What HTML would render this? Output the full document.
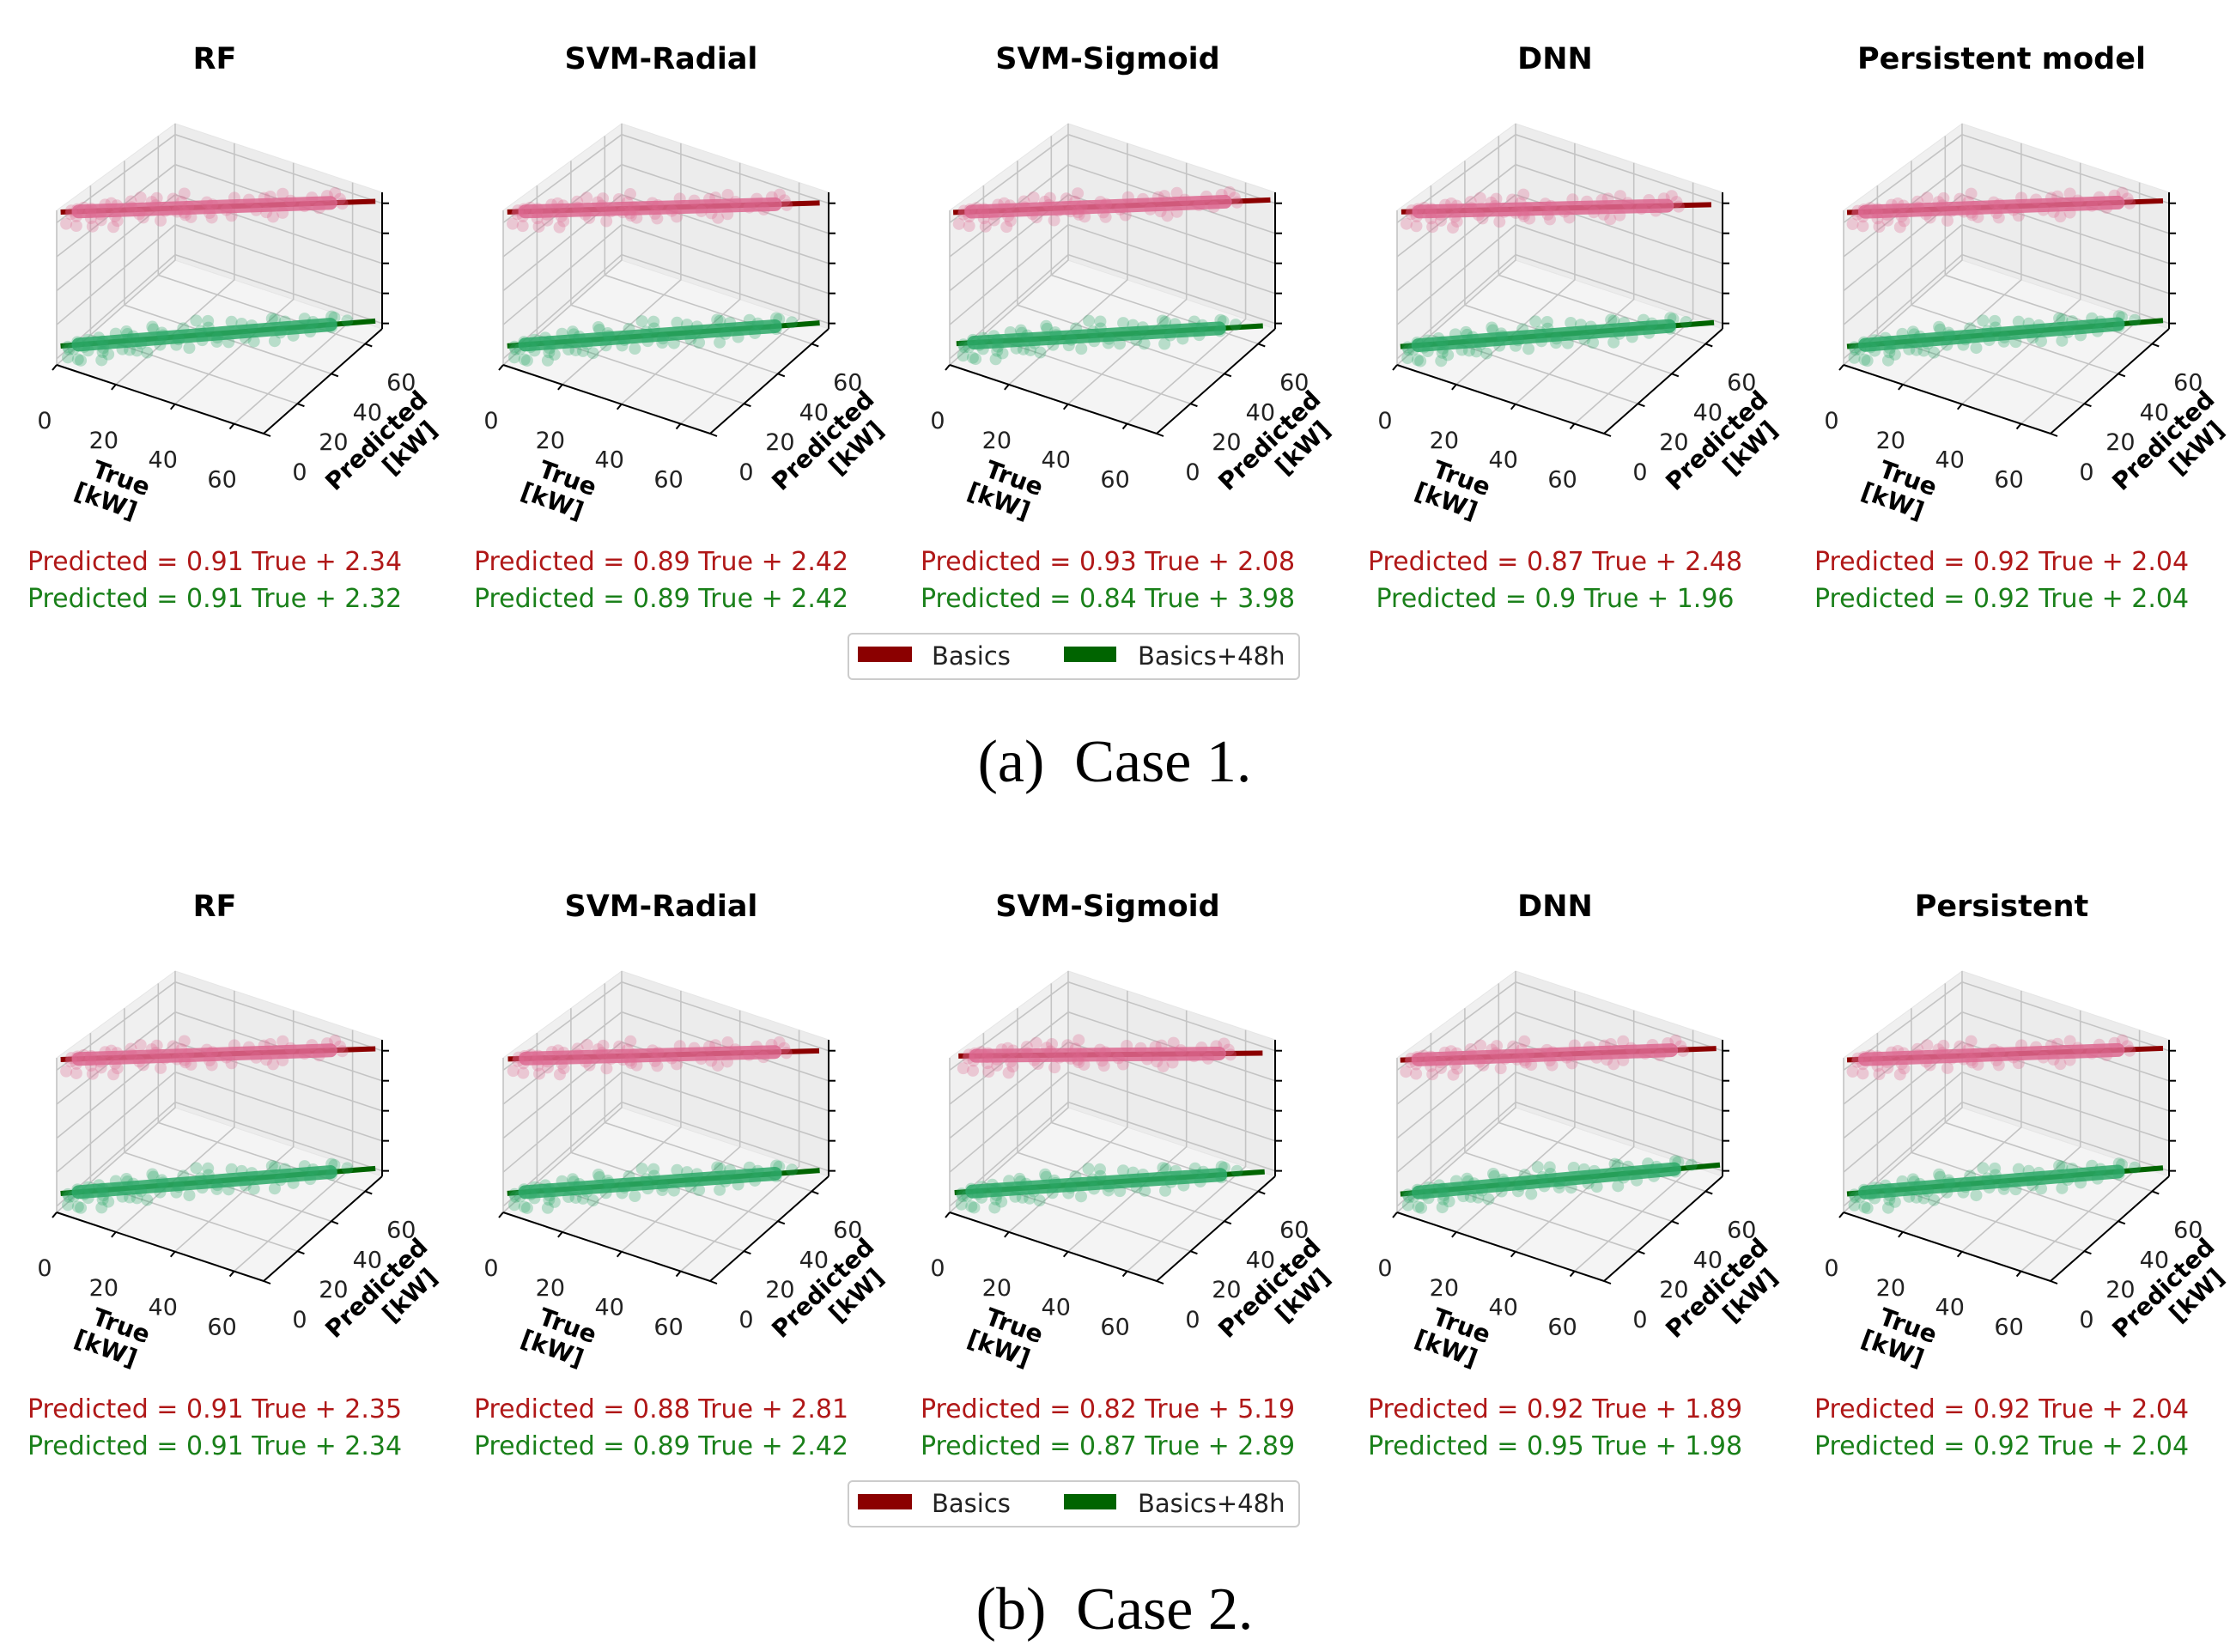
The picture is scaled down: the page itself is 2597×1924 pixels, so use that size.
<!DOCTYPE html>
<html><head><meta charset="utf-8"><style>
html,body{margin:0;padding:0;background:#fff;}
svg{display:block;}
text{font-family:"DejaVu Sans","Liberation Sans",sans-serif;}
text.cap{font-family:"Liberation Serif",serif;white-space:pre;}
</style></head><body>
<svg id="fig" width="2597" height="1924" viewBox="0 0 2597 1924" xmlns="http://www.w3.org/2000/svg"></svg>
<script>
const titlesCase1 = ["RF","SVM-Radial","SVM-Sigmoid","DNN","Persistent model"];
const titlesCase2 = ["RF","SVM-Radial","SVM-Sigmoid","DNN","Persistent"];
const slopeBasic1 = [0.91,0.89,0.93,0.87,0.92];
const interBasic1 = [2.34,2.42,2.08,2.48,2.04];
const slope481 = [0.91,0.89,0.84,0.9,0.92];
const inter481 = [2.32,2.42,3.98,1.96,2.04];
const slopeBasic2 = [0.91,0.88,0.82,0.92,0.92];
const interBasic2 = [2.35,2.81,5.19,1.89,2.04];
const slope482 = [0.91,0.89,0.87,0.95,0.92];
const inter482 = [2.34,2.42,2.89,1.98,2.04];
const trueTicks = [0,20,40,60];
const predTicks = [0,20,40,60];
const trueVals = [2,3,4,5,6,7,8,9,10,11,12,13,14,15,16,18,19,20,21,22,24,25,27,28,30,31,33,35,36,38,40,41,43,45,46,48,50,52,54,55,57,59,61,63,8,14,17,23,26,32,5,9,12,18,29,37,44,51,58,3];
const residBasic = [1,-2,3,-4,2,-1,5,-6,-3,4,-8,7,-5,2,-9,6,-4,3,-7,8,-2,5,-3,1,-6,4,2,-5,7,-3,5,-8,6,-4,9,-6,3,-7,5,-2,6,-4,3,-1,-12,10,-14,12,-10,-8,-10,6,-13,9,-4,-9,7,-10,8,2];
const resid48 = [-1,2,-3,3,-2,4,-5,1,6,-4,-7,5,-9,3,-6,7,-3,-8,4,2,-5,6,-2,-6,3,5,-4,8,-3,6,-7,4,-5,7,-8,5,-3,6,-6,3,-4,5,-2,2,-11,-13,9,-10,11,-9,-9,-12,7,-7,10,-6,8,-9,6,-3];

const svg = document.getElementById('fig');
const NS = 'http://www.w3.org/2000/svg';
function mk(tag, attrs, parent){const e=document.createElementNS(NS,tag);for(const k in attrs)e.setAttribute(k,attrs[k]);(parent||svg).appendChild(e);return e;}
const TMAX=70, PMAX=70;
function proj(ox,oy,T,P,z){const zh=180-P*0.3;return [ox+66+T*241/TMAX+P*138/PMAX, oy+425+T*80/TMAX-P*122/PMAX-z*zh];}
function pts(a){return a.map(p=>p[0].toFixed(1)+','+p[1].toFixed(1)).join(' ');}
const ZB=0.97, Z48=0.1;
const zGrid=[0.04,0.26,0.48,0.70,0.92];

function panel(ox,oy,title,sB,iB,s4,i4,idx,row){
  const g=mk('g',{});
  
  
  const t=mk('text',{x:ox+250,y:oy+80,'text-anchor':'middle','font-size':35,'font-weight':'bold',fill:'#000'},g);
  t.textContent=title;
  
  
  const P=(T,Pv,z)=>proj(ox,oy,T,Pv,z);
  const floor=mk('polygon',{points:pts([P(0,0,0),P(TMAX,0,0),P(TMAX,PMAX,0),P(0,PMAX,0)]),fill:'#f4f4f4',stroke:'#e6e6e6'},g);
  
  
  const lw=mk('polygon',{points:pts([P(0,0,0),P(0,PMAX,0),P(0,PMAX,1),P(0,0,1)]),fill:'#f0f0f0',stroke:'#e6e6e6'},g);
  
  
  const bw=mk('polygon',{points:pts([P(0,PMAX,0),P(TMAX,PMAX,0),P(TMAX,PMAX,1),P(0,PMAX,1)]),fill:'#ececec',stroke:'#e6e6e6'},g);
  
  
  const gs={stroke:'#c4c4c4','stroke-width':1.6,fill:'none'};
  trueTicks.forEach(T=>{
    mk('polyline',Object.assign({points:pts([P(T,0,0),P(T,PMAX,0),P(T,PMAX,1)])},gs),g);
  });
  predTicks.forEach(Pv=>{
    mk('polyline',Object.assign({points:pts([P(TMAX,Pv,0),P(0,Pv,0),P(0,Pv,1)])},gs),g);
  });
  zGrid.forEach(z=>{
    mk('polyline',Object.assign({points:pts([P(0,0,z),P(0,PMAX,z),P(TMAX,PMAX,z)])},gs),g);
  });
  const series=[[sB,iB,ZB,'#8b0000','rgb(221,105,145)',residBasic,'basics'],[s4,i4,Z48,'#006400','rgb(45,170,105)',resid48,'basics48h']];
  series.forEach(([s,i,z,lc,pc,res,nm])=>{
    const a=P(0,i,z), b=P(TMAX,s*TMAX+i,z);
    const ln=mk('line',{x1:a[0],y1:a[1],x2:b[0],y2:b[1],stroke:lc,'stroke-width':6},g);
    
    
    const c=P(4,s*4+i,z), d=P(60,s*60+i,z);
    const band=mk('line',{x1:c[0],y1:c[1],x2:d[0],y2:d[1],stroke:pc,'stroke-width':16,'stroke-linecap':'round',opacity:0.85},g);
    
    
    trueVals.forEach((T,k)=>{
      const q=P(T,s*T+i+res[k],z);
      const pt=mk('circle',{cx:q[0],cy:q[1],r:7,fill:pc,opacity:0.3},g);
      
      
    });
  });
  const o=P(0,0,0), tx=P(TMAX,0,0), pe=P(TMAX,PMAX,0), zt=P(TMAX,PMAX,1);
  mk('polyline',{points:pts([o,tx,pe]),stroke:'#000','stroke-width':2,fill:'none'},g);
  mk('line',{x1:pe[0],y1:pe[1],x2:zt[0],y2:zt[1],stroke:'#000','stroke-width':2},g);
  trueTicks.forEach(T=>{
    const q=P(T,0,0);
    mk('line',{x1:q[0],y1:q[1],x2:q[0]-5,y2:q[1]+6,stroke:'#000','stroke-width':2},g);
    const l=mk('text',{x:q[0]-14,y:q[1]+74,'text-anchor':'middle','font-size':27,fill:'#222'},g);
    l.textContent=T;
    
    
  });
  predTicks.forEach(Pv=>{
    const q=P(TMAX,Pv,0);
    mk('line',{x1:q[0],y1:q[1],x2:q[0]+8,y2:q[1]+3,stroke:'#000','stroke-width':2},g);
    const l=mk('text',{x:q[0]+42,y:q[1]+54,'text-anchor':'middle','font-size':27,fill:'#222'},g);
    l.textContent=Pv;
    
    
  });
  zGrid.forEach(z=>{
    const q=P(TMAX,PMAX,z);
    mk('line',{x1:q[0],y1:q[1],x2:q[0]+8,y2:q[1],stroke:'#000','stroke-width':2},g);
  });
  const xl=mk('text',{transform:`translate(${ox+138},${oy+566}) rotate(20)`,'text-anchor':'middle','font-size':28,'font-weight':'bold'},g);
  
  
  mk('tspan',{x:0,y:0},xl).textContent='True';
  mk('tspan',{x:-8,y:31},xl).textContent='[kW]';
  const yl=mk('text',{transform:`translate(${ox+445},${oy+520}) rotate(-44)`,'text-anchor':'middle','font-size':28,'font-weight':'bold'},g);
  
  
  mk('tspan',{x:0,y:0},yl).textContent='Predicted';
  mk('tspan',{x:22,y:33},yl).textContent='[kW]';
  const e1=mk('text',{x:ox+250,y:oy+664,'text-anchor':'middle','font-size':30,fill:'#b01818'},g);
  e1.textContent='Predicted = '+String(sB)+' True + '+String(iB);
  
  
  const e2=mk('text',{x:ox+250,y:oy+707,'text-anchor':'middle','font-size':30,fill:'#1a801a'},g);
  e2.textContent='Predicted = '+String(s4)+' True + '+String(i4);
  
  
}
const offs=[0,520,1040,1561,2081];
function legend(oy,cap,row){
  const g=mk('g',{});
  
  
  mk('rect',{x:988,y:oy+738,width:525,height:53,rx:5,fill:'#fff',stroke:'#ccc','stroke-width':2},g);
  mk('rect',{x:999,y:oy+753,width:63,height:18,fill:'#8b0000'},g);
  const a=mk('text',{x:1085,y:oy+774,'font-size':29,fill:'#222'},g);a.textContent='Basics';
  
  
  mk('rect',{x:1239,y:oy+753,width:61,height:18,fill:'#006400'},g);
  const b=mk('text',{x:1325,y:oy+774,'font-size':29,fill:'#222'},g);b.textContent='Basics+48h';
  
  
  const c=mk('text',{x:1298,y:oy+910,'text-anchor':'middle','font-size':70,'class':'cap',fill:'#000'});
  c.textContent=cap;
  
  
}
titlesCase1.forEach((t,k)=>panel(offs[k],0,t,slopeBasic1[k],interBasic1[k],slope481[k],inter481[k],k,'a'));
titlesCase2.forEach((t,k)=>panel(offs[k],987,t,slopeBasic2[k],interBasic2[k],slope482[k],inter482[k],k,'b'));
legend(0,'(a)  Case 1.','a');
legend(987,'(b)  Case 2.','b');
</script>
</body></html>
